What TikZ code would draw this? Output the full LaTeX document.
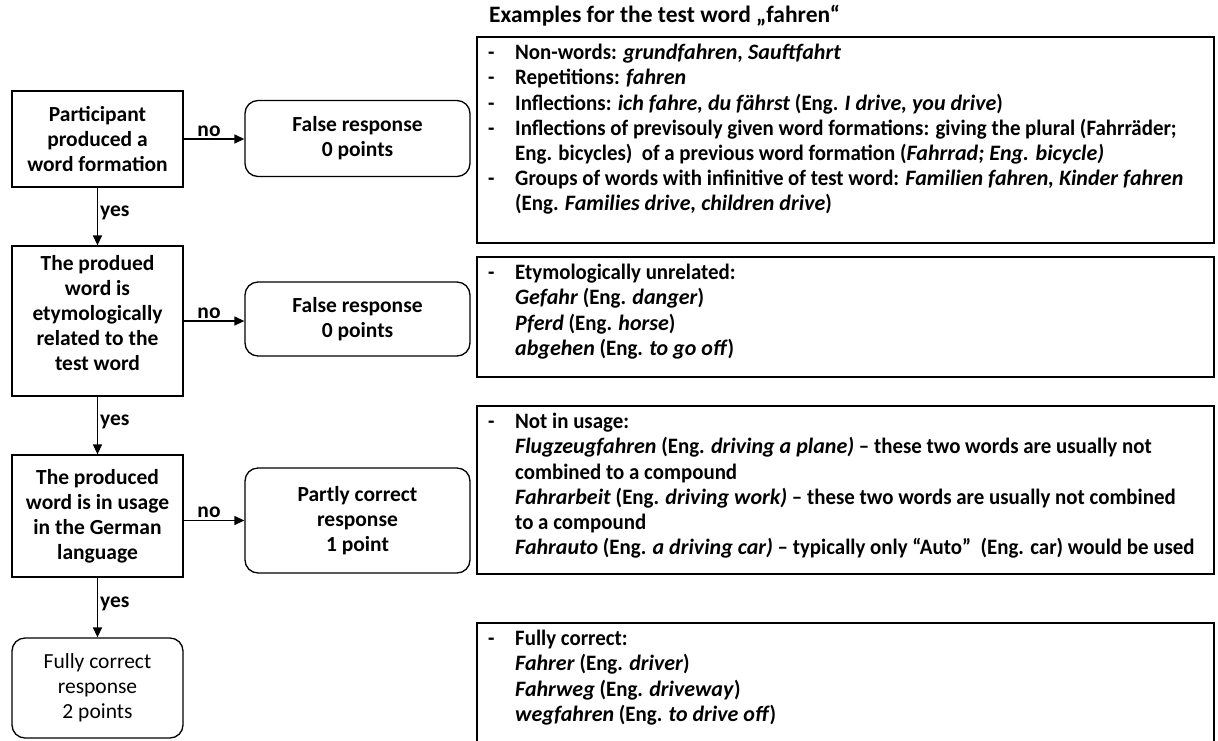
\documentclass[tikz,border=0pt]{standalone}
\usepackage{fontspec}
\setmainfont{Carlito}
\newfontfamily\exfont{Carlito}[Ligatures=TeX,BoldFeatures={FakeStretch=0.95},BoldItalicFeatures={FakeStretch=1.0}]
\usetikzlibrary{arrows.meta}
\newcommand{\fsL}{\fontsize{21.5}{25}\selectfont}
\newcommand{\fsR}{\fontsize{22}{25.2}\selectfont}
\newcommand{\fsH}{\fontsize{23.5}{26}\selectfont}
\newcommand{\ind}{\hspace*{39pt}}
\newcommand{\itm}{\makebox[39pt][l]{\hspace*{12pt}-}}
\begin{document}
\begin{tikzpicture}[x=1pt,y=-1pt,
  dec/.style={draw, line width=1.3pt, minimum width=171pt, align=center, font=\bfseries\fsL, inner sep=0pt},
  dectext/.style={align=center, font=\bfseries\fsL, inner sep=0pt},
  fin/.style={draw, line width=1.3pt, rounded corners=13pt, minimum width=171pt, align=center, font=\fsL, inner sep=0pt},
  res/.style={draw, line width=1.3pt, rounded corners=13pt, minimum width=225pt, align=center, font=\bfseries\fsL, inner sep=0pt},
  arr/.style={-{Triangle[length=10pt,width=9pt]}, line width=1.3pt},
  lab/.style={font=\bfseries\fsL, inner sep=2pt},
  exbox/.style={draw, line width=1.8pt, minimum width=737pt, inner sep=0pt, anchor=north west},
  extext/.style={anchor=north west, align=left, font=\exfont\bfseries\fsR, inner sep=0pt},
  headtext/.style={anchor=west, font=\bfseries\fsH, inner sep=0pt}
]
\useasboundingbox (0,0) rectangle (1218,740);
\clip (0,0) rectangle (1218,740);

% decision column
\node[dec, minimum height=96pt] (d1) at (97.5,139) {Participant\\produced a\\word formation};
\node[dec, minimum height=150pt] (d2) at (97.5,321) {};
\node[dectext] (d2t) at ([shift={(0,-8)}]d2.center) {The produed\\word is\\etymologically\\related to the\\test word};
\node[dec, minimum height=122pt] (d3) at (97.5,516) {The produced\\word is in usage\\in the German\\language};
\node[fin, minimum height=100pt] (d4) at (97.5,688) {Fully correct\\response\\2 points};

% result boxes
\node[res, minimum height=76pt] (r1) at (357.5,138.5) {False response\\0 points};
\node[res, minimum height=74pt] (r2) at (357.5,319) {False response\\0 points};
\node[res, minimum height=105pt] (r3) at (357.5,520.5) {Partly correct\\response\\1 point};

% connectors
\draw[arr] (d1.east) -- (d1.east -| r1.west) node[lab, above, midway, xshift=-5pt] {no};
\draw[arr] (d2.east) -- (d2.east -| r2.west) node[lab, above, midway, xshift=-5pt] {no};
\draw[arr] (r3.west -| d3.east) -- (r3.west) node[lab, above, midway, xshift=-5pt] {no};
\draw[arr] (d1.south) -- (d2.north) node[lab, right, midway, yshift=4pt] {yes};
\draw[arr] (d2.south) -- (d3.north) node[lab, right, midway, yshift=4pt] {yes};
\draw[arr] (d3.south) -- (d4.north) node[lab, right, midway, yshift=4pt] {yes};

% examples
\node[headtext] (head) at (489,16) {Examples for the test word „fahren“};

\node[exbox, minimum height=206pt] (eA) at (476,36) {};
\node[extext] (tA) at ([shift={(0,8)}]eA.north west) {%
\itm Non-words: \textit{grundfahren, Sauftfahrt}\\
\itm Repetitions: \textit{fahren}\\
\itm Inflections: \textit{ich fahre, du fährst} (Eng. \textit{I drive, you drive})\\
\itm Inflections of previsouly given word formations: giving the plural (Fahrräder;\\
\ind Eng. bicycles)\ \ of a previous word formation (\textit{Fahrrad; Eng. bicycle)}\\
\itm Groups of words with infinitive of test word: \textit{Familien fahren, Kinder fahren}\\
\ind (Eng. \textit{Families drive, children drive})};

\node[exbox, minimum height=120pt] (eB) at (476,256) {};
\node[extext] (tB) at ([shift={(0,8)}]eB.north west) {%
\itm Etymologically unrelated:\\
\ind \textit{Gefahr} (Eng. \textit{danger})\\
\ind \textit{Pferd} (Eng. \textit{horse})\\
\ind \textit{abgehen} (Eng. \textit{to go off})};

\node[exbox, minimum height=168pt] (eC) at (476,405) {};
\node[extext] (tC) at ([shift={(0,8)}]eC.north west) {%
\itm Not in usage:\\
\ind \textit{Flugzeugfahren} (Eng. \textit{driving a plane)} – these two words are usually not\\
\ind combined to a compound\\
\ind \textit{Fahrarbeit} (Eng. \textit{driving work)} – these two words are usually not combined\\
\ind to a compound\\
\ind \textit{Fahrauto} (Eng. \textit{a driving car)} – typically only “Auto” \ (Eng. car) would be used};

\node[exbox, minimum height=140pt] (eD) at (476,622) {};
\node[extext] (tD) at ([shift={(0,8)}]eD.north west) {%
\itm Fully correct:\\
\ind \textit{Fahrer} (Eng. \textit{driver})\\
\ind \textit{Fahrweg} (Eng. \textit{driveway})\\
\ind \textit{wegfahren} (Eng. \textit{to drive off})};
\end{tikzpicture}
\end{document}
